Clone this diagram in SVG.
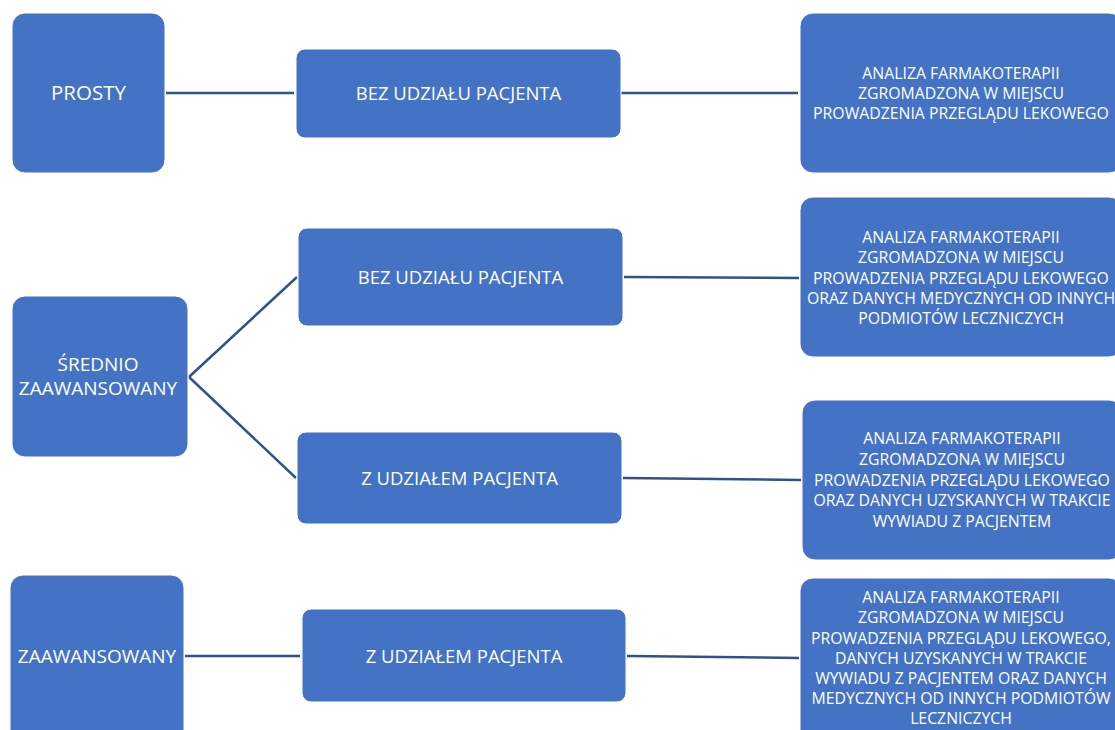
<svg xmlns="http://www.w3.org/2000/svg" width="1115" height="730" viewBox="0 0 1115 730">
<style>
.box{fill:#4472C4;stroke:#ffffff;stroke-width:1}
.t{fill:#ffffff;font-family:"Open Sans","Noto Sans",sans-serif;text-anchor:middle}
.lg{font-size:20.5px}
.md{font-size:18.5px}
.zw{font-size:19px}
.sm{font-size:15.8px}
.c{stroke:#2F528F;stroke-width:2.5;fill:none}
</style>
<rect width="1115" height="730" fill="#ffffff"/>
<g id="connectors">
<line class="c" x1="166" y1="93" x2="294" y2="93"/>
<line class="c" x1="621" y1="93" x2="798" y2="93"/>
<line class="c" x1="189" y1="377" x2="297" y2="277"/>
<line class="c" x1="189" y1="377" x2="296" y2="478"/>
<line class="c" x1="624" y1="277" x2="799" y2="278"/>
<line class="c" x1="623" y1="478" x2="801" y2="480"/>
<line class="c" x1="185" y1="656" x2="300" y2="656"/>
<line class="c" x1="627" y1="656" x2="799" y2="658"/>
</g>
<g id="prosty">
<rect class="box" x="12" y="13" width="153" height="160" rx="13"/>
<text class="t lg" x="88.5" y="100">PROSTY</text>
</g>
<g id="bez1">
<rect class="box" x="296" y="49" width="325" height="89" rx="9"/>
<text class="t md" x="458.5" y="99.5">BEZ UDZIAŁU PACJENTA</text>
</g>
<g id="r1">
<rect class="box" x="800" y="13" width="322" height="160" rx="13"/>
<text class="t sm" x="961" y="79">ANALIZA FARMAKOTERAPII</text>
<text class="t sm" x="961" y="99">ZGROMADZONA W MIEJSCU</text>
<text class="t sm" x="961" y="119">PROWADZENIA PRZEGLĄDU LEKOWEGO</text>
</g>
<g id="srednio">
<rect class="box" x="12" y="296" width="176" height="161" rx="13"/>
<text class="t zw" x="98" y="370.5">ŚREDNIO</text>
<text class="t zw" x="98" y="394.5">ZAAWANSOWANY</text>
</g>
<g id="bez2">
<rect class="box" x="298" y="228" width="325" height="98" rx="9"/>
<text class="t md" x="460.5" y="283.5">BEZ UDZIAŁU PACJENTA</text>
</g>
<g id="r2">
<rect class="box" x="800" y="197" width="322" height="160" rx="13"/>
<text class="t sm" x="961" y="243">ANALIZA FARMAKOTERAPII</text>
<text class="t sm" x="961" y="263">ZGROMADZONA W MIEJSCU</text>
<text class="t sm" x="961" y="284">PROWADZENIA PRZEGLĄDU LEKOWEGO</text>
<text class="t sm" x="961" y="304">ORAZ DANYCH MEDYCZNYCH OD INNYCH</text>
<text class="t sm" x="961" y="324">PODMIOTÓW LECZNICZYCH</text>
</g>
<g id="zudz1">
<rect class="box" x="297" y="432" width="325" height="92" rx="9"/>
<text class="t md" x="459.5" y="484.5">Z UDZIAŁEM PACJENTA</text>
</g>
<g id="r3">
<rect class="box" x="802" y="400" width="320" height="160" rx="13"/>
<text class="t sm" x="962" y="444">ANALIZA FARMAKOTERAPII</text>
<text class="t sm" x="962" y="465">ZGROMADZONA W MIEJSCU</text>
<text class="t sm" x="962" y="486">PROWADZENIA PRZEGLĄDU LEKOWEGO</text>
<text class="t sm" x="962" y="506">ORAZ DANYCH UZYSKANYCH W TRAKCIE</text>
<text class="t sm" x="962" y="527">WYWIADU Z PACJENTEM</text>
</g>
<g id="zaaw">
<rect class="box" x="10" y="575" width="174" height="170" rx="13"/>
<text class="t zw" x="97" y="663">ZAAWANSOWANY</text>
</g>
<g id="zudz2">
<rect class="box" x="302" y="609" width="324" height="93" rx="9"/>
<text class="t md" x="464" y="662.5">Z UDZIAŁEM PACJENTA</text>
</g>
<g id="r4">
<rect class="box" x="800" y="578" width="322" height="170" rx="13"/>
<text class="t sm" x="961" y="603">ANALIZA FARMAKOTERAPII</text>
<text class="t sm" x="961" y="623">ZGROMADZONA W MIEJSCU</text>
<text class="t sm" x="961" y="644">PROWADZENIA PRZEGLĄDU LEKOWEGO,</text>
<text class="t sm" x="961" y="664">DANYCH UZYSKANYCH W TRAKCIE</text>
<text class="t sm" x="961" y="684">WYWIADU Z PACJENTEM ORAZ DANYCH</text>
<text class="t sm" x="961" y="704">MEDYCZNYCH OD INNYCH PODMIOTÓW</text>
<text class="t sm" x="961" y="724">LECZNICZYCH</text>
</g>
</svg>
